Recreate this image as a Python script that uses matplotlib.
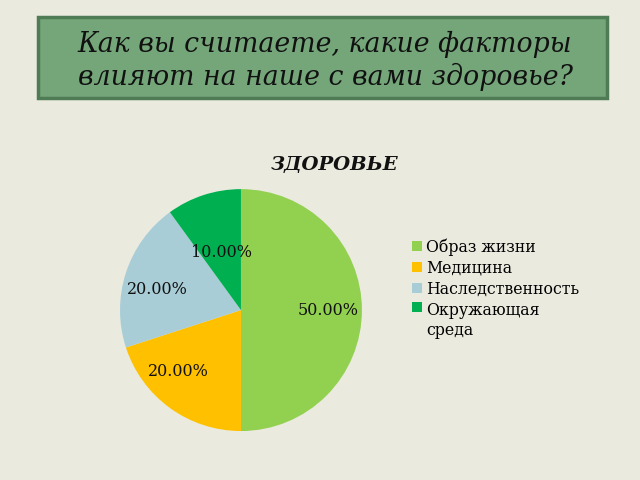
import matplotlib.pyplot as plt
from matplotlib.patches import Rectangle

labels = ["Образ жизни", "Медицина", "Наследственность", "Окружающая\nсреда"]
values = [50, 20, 20, 10]
colors = ["#92D050", "#FFC000", "#A9CDD7", "#00B050"]
# where each percentage label sits (pie data coords, radius = 1)
label_pos = [(0.72, 0.0), (-0.52, -0.51), (-0.69, 0.17), (-0.16, 0.48)]

bg = "#EBEADF"
plt.rcParams['font.family'] = ['DejaVu Serif']

fig = plt.figure(figsize=(6.4, 4.8), dpi=100, facecolor=bg)

# header box
fig.patches.append(Rectangle((38 / 640, 1 - 98 / 480), 569 / 640, 81 / 480,
                             transform=fig.transFigure, facecolor="#74A679",
                             edgecolor="#4F7C55", linewidth=2.5))
fig.text(325 / 640, 1 - 61 / 480, "Как вы считаете, какие факторы\nвлияют на наше с вами здоровье?",
         ha="center", va="center", fontsize=19.3, style="italic",
         color="#111111", linespacing=1.2)

ax = fig.add_axes([0.1875, 0.102, 0.378, 0.504])
ax.set_facecolor(bg)
wedges, texts, autotexts = ax.pie(values, colors=colors, startangle=90, counterclock=False,
                                  autopct="%.2f%%", radius=1,
                                  textprops={"fontsize": 11.5, "color": "#111111"})
for t, p in zip(autotexts, label_pos):
    t.set_position(p)
ax.set_xlim(-1, 1)
ax.set_ylim(-1, 1)
ax.set_aspect("equal")

fig.text(335 / 640, 1 - 165 / 480, "ЗДОРОВЬЕ", ha="center", va="center",
         fontsize=14, weight="bold", style="italic", color="#111111")

leg = fig.legend(wedges, labels, loc="upper left", bbox_to_anchor=(406 / 640, 1 - 232 / 480),
                 frameon=False, fontsize=11.3, handlelength=0.6, handleheight=0.6,
                 handletextpad=0.3, labelspacing=0.26, borderaxespad=0)
# square of the two-line entry lines up with its first line
leg._legend_handle_box.get_children()[0].get_children()[-1].align = "top"

fig.savefig("out.png", dpi=100, facecolor=bg)
